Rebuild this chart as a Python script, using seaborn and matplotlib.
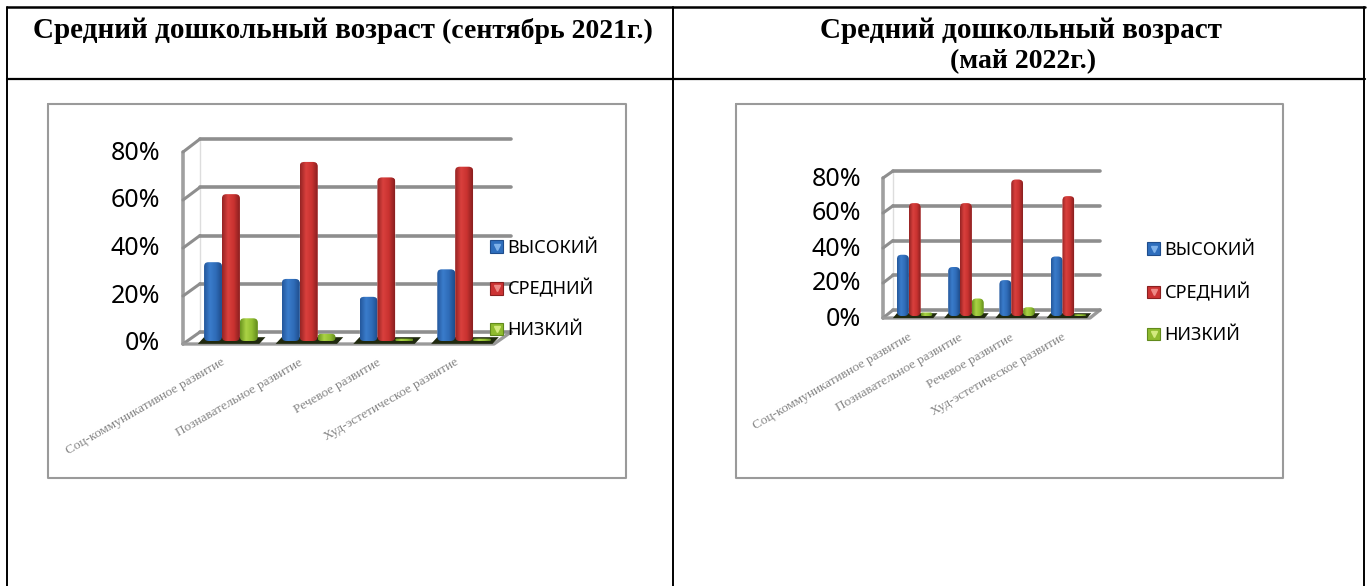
import numpy as np
import pandas as pd
import matplotlib
matplotlib.use("Agg")
import matplotlib.pyplot as plt
from matplotlib.colors import LinearSegmentedColormap
from matplotlib.legend_handler import HandlerTuple
from matplotlib.lines import Line2D
from matplotlib.patches import FancyBboxPatch, Patch, Polygon
from matplotlib.transforms import ScaledTranslation
import seaborn as sns

W, H = 1370, 586

categories = ["Соц-коммуникативное развитие", "Познавательное развитие",
              "Речевое развитие", "Худ-эстетическое развитие"]
levels = ["ВЫСОКИЙ", "СРЕДНИЙ", "НИЗКИЙ"]
yticks = [0, 20, 40, 60, 80]

# sept 2021
high_2021 = [33, 26, 18.5, 30]
mid_2021 = [61.5, 75, 68.5, 73]
low_2021 = [9.5, 3, 1, 1]

# may 2022
high_2022 = [35, 28, 20.5, 34]
mid_2022 = [64.5, 64.5, 78, 68.5]
low_2022 = [2, 10, 5, 1]

title_left = "Средний дошкольный возраст"
title_left_small = "(сентябрь 2021г.)"
title_right = "Средний дошкольный возраст"
title_right_2 = "(май 2022г.)"

palette = ["#2e6ebd", "#cc3333", "#8fbb2f"]
shades = [
    ["#24589c", "#3a7ccb", "#2f6cb8", "#1f4d8c"],
    ["#962424", "#d9403d", "#c93230", "#8a2020"],
    ["#6b961f", "#aad245", "#92bf32", "#618a1c"],
]
tips = ["#7fb2ea", "#ee8a86", "#d3ea7e"]

sns.set_theme(style="white")
plt.rcParams["font.family"] = ["Noto Sans", "DejaVu Sans"]

fig = plt.figure(figsize=(W / 100, H / 100), dpi=100, facecolor="white")


def px_axes(x0, y0, x1, y1, zorder):
    return fig.add_axes([x0 / W, 1 - y1 / H, (x1 - x0) / W, (y1 - y0) / H], zorder=zorder)


# page: table rules, chart frames, titles
page = px_axes(0, 0, W, H, 0)
page.set_xlim(0, W)
page.set_ylim(H, 0)
page.axis("off")
page.plot([7, 1365], [7, 7], color="black", lw=1.8)
page.plot([7, 1365], [79, 79], color="black", lw=1.6)
for x in [7.5, 673, 1364]:
    page.plot([x, x], [7, H], color="black", lw=1.4)
for x0, x1 in [(48, 626), (736, 1283)]:
    page.plot([x0, x1, x1, x0, x0], [104, 104, 478, 478, 104], color="#9a9a9a", lw=1.5)

serif = dict(family="Liberation Serif", weight="bold", color="black")
page.text(33, 38, title_left, fontsize=21, ha="left", va="baseline", **serif)
page.text(442, 38, title_left_small, fontsize=20, ha="left", va="baseline", **serif)
page.text(1021, 38, title_right, fontsize=21, ha="center", va="baseline", **serif)
page.text(1023, 68, title_right_2, fontsize=20, ha="center", va="baseline", **serif)


def draw_chart(high, mid, low, ax_box, wall, legend_xy, legend_gap, pad, shift_px):
    x0, y_top, x1, y_base = ax_box
    wx0, wx1, wy_top, wy_base, fy_top, fy_base = wall
    bx = wx1 + 311 if x1 - x0 > 250 else wx1 + 207

    # back wall with the gridlines
    back = px_axes(wx1, wy_top, bx, wy_base, 1)
    back.set_ylim(0, 80)
    back.set_xlim(0, 1)
    back.set_yticks(yticks)
    back.set_xticks([])
    back.set_yticklabels([])
    back.grid(axis="y", color="#8e8e8e", lw=2.6)
    back.patch.set_alpha(0)
    back.tick_params(left=False)
    for s in back.spines.values():
        s.set_visible(False)
    for g in back.get_ygridlines():
        g.set_clip_on(False)

    # side wall
    page.plot([wx0, wx0], [fy_top, fy_base], color="#a0a0a0", lw=2.6)
    page.plot([wx1, wx1], [wy_top, wy_base], color="#dddddd", lw=1.0)
    for v in yticks:
        f = v / 80
        page.plot([wx0, wx1],
                  [fy_base + (fy_top - fy_base) * f, wy_base + (wy_top - wy_base) * f],
                  color="#8e8e8e", lw=2.2)
    page.plot([wx0, bx - (wx1 - wx0), bx], [fy_base, fy_base, wy_base], color="#9a9a9a", lw=2.4)

    df = pd.DataFrame({
        "cat": categories * 3,
        "level": np.repeat(levels, 4),
        "value": high + mid + low,
    })

    ax = px_axes(x0, y_top, x1, y_base, 2)
    sns.barplot(data=df, x="cat", y="value", hue="level", order=categories,
                hue_order=levels, palette=palette, width=0.69, gap=0, saturation=1,
                legend=False, ax=ax)
    ax.set_xlim(-0.5, 3.5)
    ax.set_ylim(0, 80)
    ax.patch.set_alpha(0)
    ax.set_xlabel("")
    ax.set_ylabel("")
    for s in ax.spines.values():
        s.set_visible(False)
    ax.set_yticks(yticks)
    ax.set_yticklabels([f"{v}%" for v in yticks], fontsize=18, color="black")
    ax.tick_params(axis="y", left=False, pad=pad)
    ax.tick_params(axis="x", bottom=False, pad=5)
    ax.set_xticks(range(4))
    ax.set_xticklabels(categories, rotation=30, ha="right", rotation_mode="anchor",
                       fontsize=9.6, color="#858585", family="Liberation Serif")
    shift = ScaledTranslation(shift_px / 100, 0, fig.dpi_scale_trans)
    for lab in ax.get_xticklabels():
        lab.set_transform(lab.get_transform() + shift)

    px_x = (x1 - x0) / 4
    px_y = (y_base - y_top) / 80
    bars = [p for p in ax.patches if p.get_height() > 0]

    # dark floor shadow below each group
    for i in range(4):
        group = bars[i::4]
        left = group[0].get_x()
        right = group[2].get_x() + group[2].get_width()
        ax.add_patch(Polygon([(left - 0.08, -1.2), (right + 0.02, -1.2),
                              (right + 0.1, 1.6), (left, 1.6)],
                             closed=True, facecolor="#20290f", edgecolor="none",
                             zorder=1, clip_on=False))

    # cylinders: gradient clipped to rounded bars
    for j in range(3):
        cmap = LinearSegmentedColormap.from_list(levels[j], shades[j])
        for bar in bars[j * 4:(j + 1) * 4]:
            bx0, bw, bh = bar.get_x(), bar.get_width(), bar.get_height()
            rs = min(4.5, bh * px_y / 2) / px_x
            shape = FancyBboxPatch((bx0, 0), bw, bh, boxstyle=f"round,pad=0,rounding_size={rs}",
                                   mutation_aspect=px_x / px_y, transform=ax.transData,
                                   facecolor="none", edgecolor="none")
            ax.add_patch(shape)
            img = ax.imshow(np.linspace(0, 1, 40).reshape(1, -1), cmap=cmap, aspect="auto",
                            extent=(bx0, bx0 + bw, 0, bh), zorder=3 + j * 0.1 * (1 if j != 2 else -1))
            img.set_clip_path(shape)
            bar.set_clip_path(shape)
    ax.set_xlim(-0.5, 3.5)
    ax.set_ylim(0, 80)

    handles = [(Patch(facecolor=palette[k], edgecolor=shades[k][3], lw=0.8),
                Line2D([], [], marker="v", ms=4, color=tips[k], ls="none"))
               for k in range(3)]
    ax.legend(handles, levels, handler_map={tuple: HandlerTuple(ndivide=1, pad=0)},
              loc="upper left", bbox_to_anchor=(legend_xy[0] / W, 1 - legend_xy[1] / H),
              bbox_transform=fig.transFigure, frameon=False, fontsize=13, borderpad=0,
              borderaxespad=0, handlelength=0.72, handleheight=0.68, handletextpad=0.25,
              labelspacing=legend_gap, labelcolor="black")


draw_chart(high_2021, mid_2021, low_2021, (192, 150, 503, 341),
           (183, 200, 139, 332, 152, 344), (490, 239), 1.25, 17, -10)
draw_chart(high_2022, mid_2022, low_2022, (889, 176, 1094, 316),
           (883, 893, 171, 310, 178, 318), (1147, 241), 1.33, 14, -7)

fig.savefig("out.png", dpi=100)
